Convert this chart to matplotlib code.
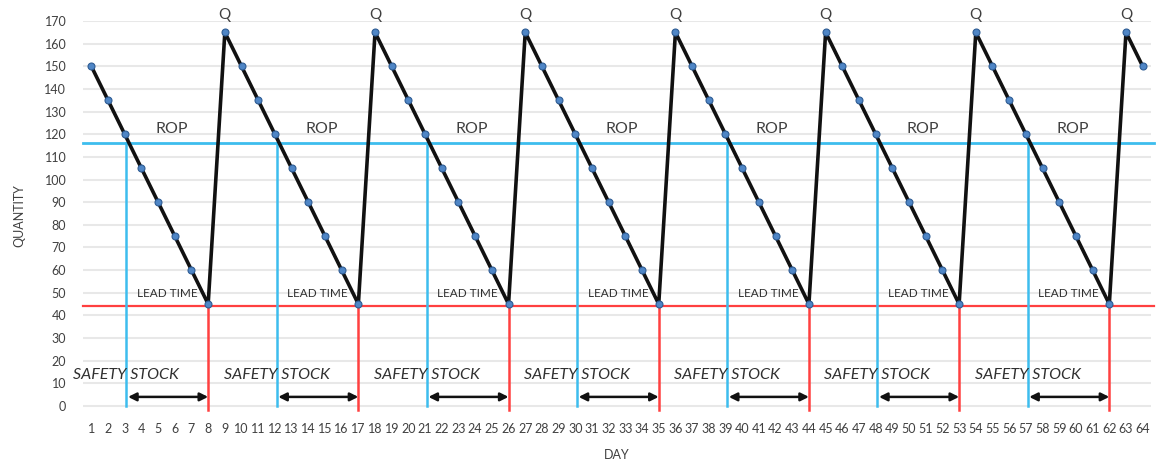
import numpy as np
import matplotlib.pyplot as plt

# ---- data ----
days = list(range(1, 65))
quantity = [150, 135, 120, 105, 90, 75, 60, 45,
            165, 150, 135, 120, 105, 90, 75, 60, 45,
            165, 150, 135, 120, 105, 90, 75, 60, 45,
            165, 150, 135, 120, 105, 90, 75, 60, 45,
            165, 150, 135, 120, 105, 90, 75, 60, 45,
            165, 150, 135, 120, 105, 90, 75, 60, 45,
            165, 150, 135, 120, 105, 90, 75, 60, 45,
            165, 150]

rop = 116
safety_stock = 44
order_days = [3.1, 12.1, 21.1, 30.1, 39.1, 48.1, 57.1]   # stock crosses ROP
arrival_days = [8, 17, 26, 35, 44, 53, 62]              # stock hits safety level
peak_days = [9, 18, 27, 36, 45, 54, 63]

y_ticks = list(range(0, 171, 10))

# ---- colours ----
LINE = "#111111"
MARK = "#4F86C6"
ROP_C = "#3DBDEE"
SS_C = "#FF4040"
GRID = "#E8E8E8"
TXT = "#404040"

plt.rcParams["font.family"] = ["Lato", "DejaVu Sans"]

fig = plt.figure(figsize=(11.56, 4.59), dpi=100)
ax = fig.add_axes([0.0718, 0.1057, 0.9239, 0.8485])

ax.set_xlim(0.5, 64.5)
ax.set_ylim(-2, 170)

for s in ax.spines.values():
    s.set_visible(False)

ax.set_yticks(y_ticks)
ax.set_yticklabels([str(v) for v in y_ticks])
ax.set_xticks(days)
ax.set_xticklabels([str(d) for d in days])
ax.tick_params(axis="both", length=0, labelsize=9, labelcolor=TXT)
ax.tick_params(axis="y", pad=12)
ax.tick_params(axis="x", pad=9)
ax.yaxis.grid(True, color=GRID, lw=1.5)
ax.set_axisbelow(True)

# reorder point and safety stock levels, running to the figure edge
ax.axhline(rop, xmin=0, xmax=1.003, color=ROP_C, lw=2, clip_on=False, zorder=2)
ax.axhline(safety_stock, xmin=0, xmax=1.003, color=SS_C, lw=1.6, clip_on=False, zorder=2)

for d in order_days:
    ax.plot([d, d], [rop, 0], color=ROP_C, lw=1.8, zorder=2)
for d in arrival_days:
    ax.plot([d, d], [safety_stock, -2], color=SS_C, lw=1.8, zorder=2, clip_on=False)

# inventory level
ax.plot(days, quantity, color=LINE, lw=2.6, zorder=4,
        marker="o", markersize=5, markerfacecolor=MARK,
        markeredgecolor="#2E5C94", markeredgewidth=0.8)

# labels on each cycle
for d0, d1 in zip(order_days, arrival_days):
    mid = (d0 + d1) / 2
    ax.annotate("", xy=(d0 + 0.1, 4), xytext=(d1, 4),
                arrowprops=dict(arrowstyle="<|-|>", color=LINE, lw=1.8,
                                shrinkA=0, shrinkB=0, mutation_scale=12),
                zorder=5)
    ax.text(mid + 0.25, 122.5, "ROP", ha="center", va="center",
            fontsize=11.5, color=TXT)
    ax.text(mid, 49.5, "LEAD TIME", ha="center", va="center",
            fontsize=8.5, color="#303030")
    ax.text(d0, 13.5, "SAFETY STOCK", ha="center", va="center",
            fontsize=11.5, style="italic", color="#303030", clip_on=False)

for d in peak_days:
    ax.text(d, 172.5, "Q", ha="center", va="center", fontsize=11,
            color=TXT, clip_on=False)

ax.set_xlabel("DAY", fontsize=9, color=TXT, labelpad=10)
ax.set_ylabel("QUANTITY", fontsize=9, color=TXT, labelpad=14)

fig.savefig("out.png", dpi=100)
